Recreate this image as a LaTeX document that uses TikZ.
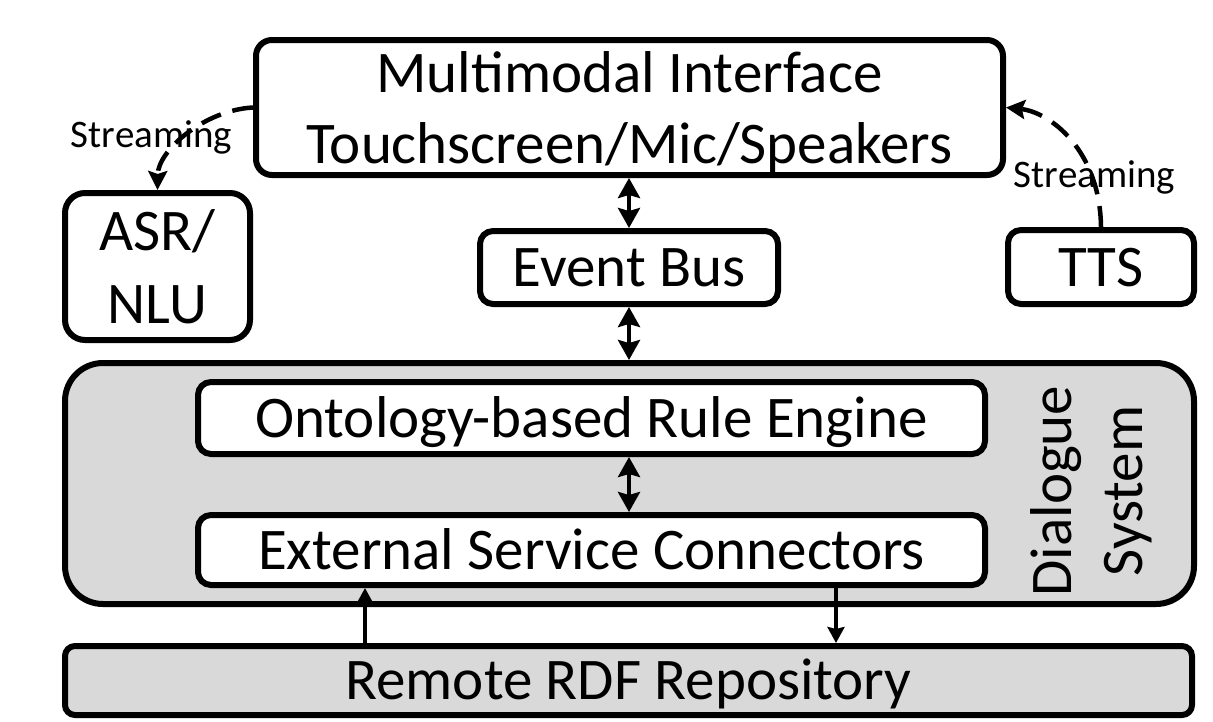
\documentclass[tikz,border=0pt]{standalone}
\usepackage{fontspec}
\setmainfont{Carlito}
\usetikzlibrary{arrows.meta}
\definecolor{boxgray}{HTML}{D9D9D9}
\begin{document}
\begin{tikzpicture}[x=1pt,y=-1pt,
  box/.style={draw=black, line width=6pt, rounded corners=13pt, fill=white, inner sep=0pt,
    font=\fontsize{59}{71}\selectfont, align=center},
  oneline/.style={text height=38pt, text depth=0pt},
  dblarr/.style={line width=4pt, {Stealth[length=20pt,width=22pt,inset=3pt]}-{Stealth[length=20pt,width=22pt,inset=3pt]}},
  uparr/.style={line width=4pt, -{Stealth[length=16pt,width=17pt,inset=2pt]}},
  dasharr/.style={line width=4.5pt, dash pattern=on 21pt off 12pt, -{Stealth[length=19pt,width=19pt,inset=3pt]}},
  small/.style={font=\fontsize{39}{47}\selectfont, anchor=base, inner sep=0pt}
]
\useasboundingbox (0,0) rectangle (1213,721);

\node[box, minimum width=747pt, minimum height=127pt, rounded corners=16pt] (mmi) at (629.5,107.5)
  {\rule{0pt}{52pt}Multimodal Interface\\Touchscreen/Mic/Speakers\rule[-12pt]{0pt}{12pt}};
\node[box, minimum width=185pt, minimum height=147pt, rounded corners=20pt, font=\fontsize{59}{73}\selectfont] (asr) at (157.5,266.5)
  {ASR/\\NLU};
\node[box, oneline, minimum width=298pt, minimum height=73pt] (eb) at (629,267.5) {Event Bus};
\node[box, oneline, minimum width=186pt, minimum height=74pt] (tts) at (1101,267) {TTS};

\node[box, fill=boxgray, minimum width=1129pt, minimum height=241pt, rounded corners=38pt] (ds) at (629.5,483.5) {};
\node[font=\fontsize{59}{71}\selectfont, align=center, rotate=90, inner sep=0pt] (dslabel) at (1091,491) {Dialogue\\System};

\node[box, oneline, minimum width=787pt, minimum height=72pt] (onto) at (591.5,418) {Ontology-based Rule Engine};
\node[box, oneline, minimum width=787pt, minimum height=70pt] (ext) at (591.5,550) {External Service Connectors};

\node[box, oneline, fill=boxgray, minimum width=1127pt, minimum height=69pt, rounded corners=10pt] (rdf) at (628.5,680.5) {Remote RDF Repository};

\coordinate (upx) at (365,0);
\coordinate (dnx) at (836,0);

\draw[dblarr] (eb.north |- mmi.south) -- (eb.north);
\draw[dblarr] (eb.south) -- (eb.south |- ds.north);
\draw[dblarr] (eb.south |- onto.south) -- (eb.south |- ext.north);
\draw[uparr] (upx |- rdf.north) -- (upx |- ext.south);
\draw[uparr] (dnx |- ext.south) -- (dnx |- rdf.north);

\node[small] (sl) at (151.5,147) {Streaming};
\node[small] (sr) at (1094.5,187) {Streaming};

\draw[dasharr] (mmi.west) .. controls (205,110) and (158,150) .. (asr.north);
\draw[dasharr] (tts.north) .. controls (1100,150) and (1050,112) .. (mmi.east);
\end{tikzpicture}
\end{document}
